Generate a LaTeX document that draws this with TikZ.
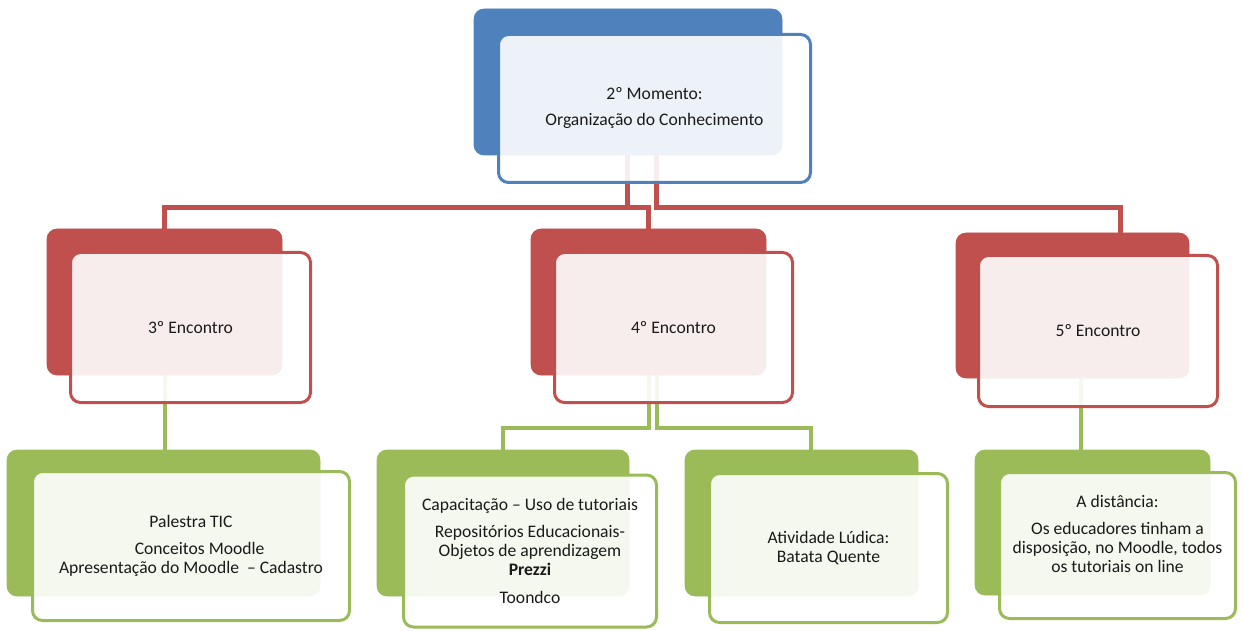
\documentclass[tikz,border=0pt]{standalone}
\usepackage{fontspec}
\setmainfont{Carlito}
\definecolor{cblue}{HTML}{4F81BD}
\definecolor{cred}{HTML}{C0504D}
\definecolor{cgreen}{HTML}{9BBB59}
\definecolor{ctext}{HTML}{1A1A1A}
\tikzset{
  sz/.style 2 args={minimum width=#1*0.75pt, minimum height=#2*0.75pt},
  backbox/.style={rectangle, fill=#1, rounded corners=7.5pt, inner sep=0pt},
  frontbox/.style={rectangle, draw=#1, line width=2.25pt, fill=white, fill opacity=0.9, text opacity=1,
    rounded corners=7.5pt, inner sep=0pt, align=center, text=ctext, font=\fontsize{13.2}{14.25}\selectfont},
  txt/.style={align=center, text=ctext, inner sep=0pt, font=\fontsize{13.2}{14.25}\selectfont},
  redline/.style={draw=cred, line width=3.75pt},
  greenline/.style={draw=cgreen, line width=3pt},
}
\begin{document}
\begin{tikzpicture}[x=0.75pt, y=-0.75pt]
\useasboundingbox (0,0) rectangle (1243,631);
% back boxes (named, positions only)
\path
  (628,82)      node[backbox=cblue, sz={308}{146}] (m2b) {}
  (164.5,302)   node[backbox=cred, sz={235}{146}] (e3b) {}
  (648.5,302)   node[backbox=cred, sz={235}{146}] (e4b) {}
  (1072.5,305.5) node[backbox=cred, sz={233}{145}] (e5b) {}
  (163.5,523)   node[backbox=cgreen, sz={313}{146}] (p1b) {}
  (503,523)     node[backbox=cgreen, sz={252}{146}] (p2b) {}
  (801.5,523)   node[backbox=cgreen, sz={233}{146}] (p3b) {}
  (1092.5,522.5) node[backbox=cgreen, sz={235}{145}] (p4b) {};
% helper coordinates for connector bends
\coordinate (rl) at (627.5,207.5);
\coordinate (rr) at (656,207.5);
\coordinate (e5in) at (1120,0);
\coordinate (gl) at (649,427.5);
\coordinate (gr) at (656.5,427.5);
\coordinate (p3in) at (811,0);
\coordinate (g5) at (1081,0);
% connectors (under the boxes)
\draw[redline] (rl |- m2b.south) -- (rl) -| (e3b.north);
\draw[redline] (rl |- m2b.south) -- (rl) -| (e4b.north);
\draw[redline] (rr |- m2b.south) -- (rr) -| (e5in |- e5b.north);
\draw[greenline] (e3b.south) -- (e3b.south |- p1b.north);
\draw[greenline] (gl |- e4b.south) -- (gl) -| (p2b.north);
\draw[greenline] (gr |- e4b.south) -- (gr) -| (p3in |- p3b.north);
\draw[greenline] (g5 |- e5b.south) -- (g5 |- p4b.north);
% back boxes drawn again on top of connectors
\fill[cblue, rounded corners=7.5pt] (m2b.north west) rectangle (m2b.south east);
\fill[cred, rounded corners=7.5pt] (e3b.north west) rectangle (e3b.south east);
\fill[cred, rounded corners=7.5pt] (e4b.north west) rectangle (e4b.south east);
\fill[cred, rounded corners=7.5pt] (e5b.north west) rectangle (e5b.south east);
\fill[cgreen, rounded corners=7.5pt] (p1b.north west) rectangle (p1b.south east);
\fill[cgreen, rounded corners=7.5pt] (p2b.north west) rectangle (p2b.south east);
\fill[cgreen, rounded corners=7.5pt] (p3b.north west) rectangle (p3b.south east);
\fill[cgreen, rounded corners=7.5pt] (p4b.north west) rectangle (p4b.south east);
% front boxes with text
\node[frontbox=cblue, sz={312}{148}] (m2) at (654.5,108.5)
  {2º Momento:\\[5.25pt] Organização do Conhecimento};
\node[frontbox=cred, sz={240}{150}] (e3) at (190.5,327.5) {3º Encontro};
\node[frontbox=cred, sz={238}{150}] (e4) at (673.5,327.5) {4º Encontro};
\node[frontbox=cred, sz={239}{151}] (e5) at (1098,331) {5º Encontro};
\node[frontbox=cgreen, sz={317}{149}] (p1) at (191,546)
  {Palestra TIC\\[6pt] \hspace*{13pt}Conceitos Moodle\\ Apresentação do Moodle \ – Cadastro};
\node[frontbox=cgreen, sz={253}{152}] (p2) at (530,551)
  {Capacitação – Uso de tutoriais\\[6pt] Repositórios Educacionais-\\ Objetos de aprendizagem\\ \textbf{Prezzi}\\[6.75pt] Toondco};
\node[frontbox=cgreen, sz={238}{149}] (p3) at (828.5,548)
  {Atividade Lúdica:\\ Batata Quente};
\node[frontbox=cgreen, sz={236}{146}] (p4) at (1117.5,545.5) {};
\node[txt] (p4t) at (1117.5,534)
  {A distância:\\[6pt] Os educadores tinham a\\ disposição, no Moodle, todos\\ os tutoriais on line};
\end{tikzpicture}
\end{document}
